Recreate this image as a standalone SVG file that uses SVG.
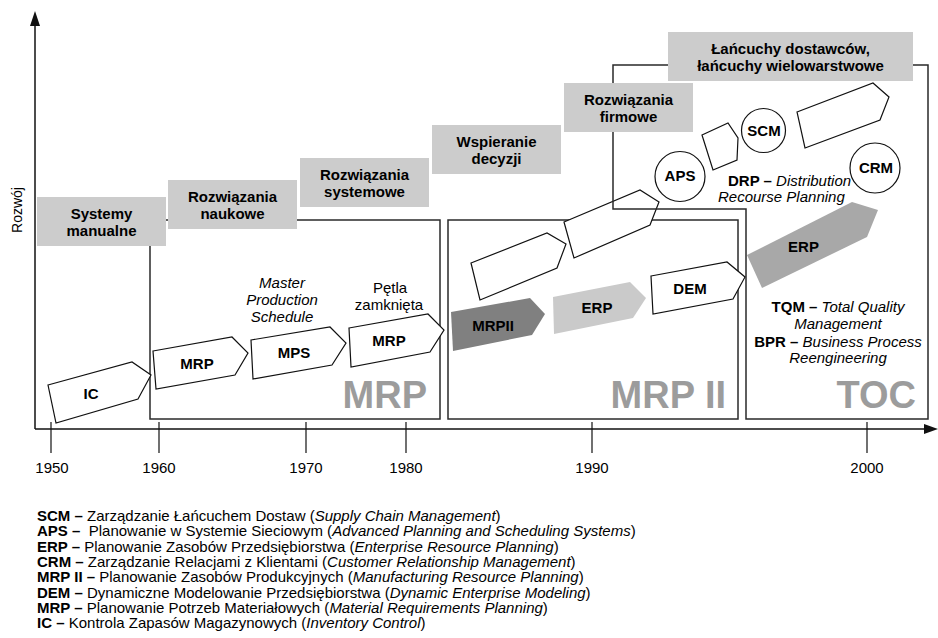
<svg xmlns="http://www.w3.org/2000/svg" width="938" height="638" viewBox="0 0 938 638">
<style>
text{font-family:"Liberation Sans",Arial,Helvetica,sans-serif;font-size:15px;fill:#000}
.b{font-weight:bold}
.i{font-style:italic}
.m{text-anchor:middle}
.box{fill:#cccccc}
.frame{fill:none;stroke:#2a2a2a;stroke-width:1.5}
.pent{fill:#fff;stroke:#111;stroke-width:1.2}
.circ{fill:#fff;stroke:#111;stroke-width:1.2}
.big{font-size:38px;font-weight:bold;fill:#9c9c9c;text-anchor:end}
.ax{stroke:#111;stroke-width:1.5;fill:none}
.tick{stroke:#111;stroke-width:1.2}
</style>

<!-- region frames -->
<g id="region-mrp"><rect class="frame" x="150" y="220" width="290" height="199"/><text class="big" x="427" y="408">MRP</text></g>
<g id="region-mrp2"><rect class="frame" x="448" y="220" width="290" height="199"/><text class="big" x="726" y="408">MRP II</text></g>

<!-- empty pentagons in MRP II region -->
<g id="pent-empty1"><polygon class="pent" points="471,263 547,233 566,244 557,268 480,300"/></g>
<g id="pent-empty2"><polygon class="pent" points="564,222 640,190 659,202 650,225 574,258"/></g>

<g id="region-toc"><path class="frame" d="M746,419 V209 H613 V65 H928 V419 Z"/><text class="big" x="916" y="408">TOC</text></g>

<!-- axes -->
<g id="connectors">
<line class="ax" x1="35" y1="24" x2="35" y2="429"/>
<polygon points="35,11 30,26 40,26" fill="#111"/>
<line class="ax" x1="35" y1="429" x2="926" y2="429"/>
<polygon points="938,429 924,424 924,434" fill="#111"/>
<line class="tick" x1="51" y1="422" x2="51" y2="453"/>
<line class="tick" x1="159" y1="422" x2="159" y2="453"/>
<line class="tick" x1="306" y1="422" x2="306" y2="453"/>
<line class="tick" x1="406" y1="422" x2="406" y2="453"/>
<line class="tick" x1="592" y1="422" x2="592" y2="453"/>
<line class="tick" x1="867" y1="422" x2="867" y2="453"/>
</g>
<g id="axis-labels">
<text class="m" x="52" y="473">1950</text>
<text class="m" x="159" y="473">1960</text>
<text class="m" x="306" y="473">1970</text>
<text class="m" x="406" y="473">1980</text>
<text class="m" x="592" y="473">1990</text>
<text class="m" x="867" y="473">2000</text>
<text class="m" style="font-size:14px" transform="translate(22,210) rotate(-90)">Rozwój</text>
</g>

<!-- gray stage boxes -->
<g id="box-manualne"><rect class="box" x="37" y="197" width="129" height="49"/><text class="b m" x="101.5" y="218.5">Systemy</text><text class="b m" x="101.5" y="235.5">manualne</text></g>
<g id="box-naukowe"><rect class="box" x="168" y="180" width="129" height="49"/><text class="b m" x="232.5" y="201.5">Rozwiązania</text><text class="b m" x="232.5" y="218.5">naukowe</text></g>
<g id="box-systemowe"><rect class="box" x="300" y="158" width="129" height="49"/><text class="b m" x="364.5" y="179.5">Rozwiązania</text><text class="b m" x="364.5" y="196.5">systemowe</text></g>
<g id="box-decyzji"><rect class="box" x="432" y="125" width="129" height="49"/><text class="b m" x="496.5" y="146.5">Wspieranie</text><text class="b m" x="496.5" y="163.5">decyzji</text></g>
<g id="box-firmowe"><rect class="box" x="564" y="83" width="129" height="49"/><text class="b m" x="628.5" y="104.5">Rozwiązania</text><text class="b m" x="628.5" y="121.5">firmowe</text></g>
<g id="box-lancuchy"><rect class="box" x="668" y="32" width="245" height="49"/><text class="b m" x="790.5" y="53.5">Łańcuchy dostawców,</text><text class="b m" x="790.5" y="70.5">łańcuchy wielowarstwowe</text></g>

<!-- MRP-era pentagons -->
<g id="node-ic"><polygon class="pent" points="48,385 132,362 151,375 138,399 56,423"/><text class="b m" x="91" y="399">IC</text></g>
<g id="node-mrp1"><polygon class="pent" points="153,351 232,337 248,353 235,375 156,389"/><text class="b m" x="197" y="369">MRP</text></g>
<g id="node-mps"><polygon class="pent" points="251,340 330,327 346,343 332,365 253,379"/><text class="b m" x="294" y="358">MPS</text></g>
<g id="node-mrp2"><polygon class="pent" points="349,328 428,314 444,330 430,352 351,367"/><text class="b m" x="389" y="346">MRP</text></g>
<g id="label-mps"><text class="i m" x="282" y="288">Master</text><text class="i m" x="282" y="305">Production</text><text class="i m" x="282" y="322">Schedule</text></g>
<g id="label-petla"><text class="m" x="390" y="293">Pętla</text><text class="m" x="389" y="310">zamknięta</text></g>

<!-- MRP II era -->
<g id="node-mrpii"><polygon points="451,312 530,298 545,314 532,335 453,351" fill="#808080"/><text class="b m" x="493" y="331">MRPII</text></g>
<g id="node-erp1"><polygon points="553,297 630,282 646,298 633,318 554,334" fill="#cacaca"/><text class="b m" x="597" y="313">ERP</text></g>
<g id="node-dem"><polygon class="pent" points="651,276 727,262 745,277 733,299 653,314"/><text class="b m" x="690" y="294">DEM</text></g>

<!-- TOC era -->
<g id="node-erp2"><polygon points="747,255 852,202 878,210 867,237 762,288" fill="#a8a8a8"/><text class="b m" x="803.5" y="252">ERP</text></g>
<g id="node-aps"><circle class="circ" cx="680" cy="176.5" r="25"/><text class="b m" x="680" y="181">APS</text></g>
<g id="node-small"><polygon class="pent" points="702,135 728,123 738,138 737,160 713,170"/></g>
<g id="node-scm"><circle class="circ" cx="763.5" cy="130.5" r="22"/><text class="b m" x="764" y="136">SCM</text></g>
<g id="node-empty3"><polygon class="pent" points="797,112 873,83 889,97 880,120 805,148"/></g>
<g id="node-crm"><circle class="circ" cx="875" cy="168" r="25"/><text class="b m" x="876" y="173">CRM</text></g>
<g id="label-drp"><text x="728" y="186"><tspan class="b">DRP – </tspan><tspan class="i">Distribution</tspan></text><text class="i" x="718" y="202">Recourse Planning</text></g>
<g id="label-tqm">
<text class="m" x="838" y="312"><tspan class="b">TQM – </tspan><tspan class="i">Total Quality</tspan></text>
<text class="i m" x="838" y="329">Management</text>
<text class="m" x="838" y="347"><tspan class="b">BPR – </tspan><tspan class="i">Business Process</tspan></text>
<text class="i m" x="838" y="363">Reengineering</text>
</g>

<!-- legend -->
<g id="legend">
<text x="37" y="521"><tspan class="b">SCM – </tspan>Zarządzanie Łańcuchem Dostaw (<tspan class="i">Supply Chain Management</tspan>)</text>
<text x="37" y="536.3" xml:space="preserve"><tspan class="b">APS – </tspan> Planowanie w Systemie Sieciowym (<tspan class="i">Advanced Planning and Scheduling Systems</tspan>)</text>
<text x="37" y="551.6"><tspan class="b">ERP – </tspan>Planowanie Zasobów Przedsiębiorstwa (<tspan class="i">Enterprise Resource Planning</tspan>)</text>
<text x="37" y="566.9"><tspan class="b">CRM – </tspan>Zarządzanie Relacjami z Klientami (<tspan class="i">Customer Relationship Management</tspan>)</text>
<text x="37" y="582.2"><tspan class="b">MRP II – </tspan>Planowanie Zasobów Produkcyjnych (<tspan class="i">Manufacturing Resource Planning</tspan>)</text>
<text x="37" y="597.5"><tspan class="b">DEM – </tspan>Dynamiczne Modelowanie Przedsiębiorstwa (<tspan class="i">Dynamic Enterprise Modeling</tspan>)</text>
<text x="37" y="612.8"><tspan class="b">MRP – </tspan>Planowanie Potrzeb Materiałowych (<tspan class="i">Material Requirements Planning</tspan>)</text>
<text x="37" y="628.1"><tspan class="b">IC – </tspan>Kontrola Zapasów Magazynowych (<tspan class="i">Inventory Control</tspan>)</text>
</g>
</svg>
